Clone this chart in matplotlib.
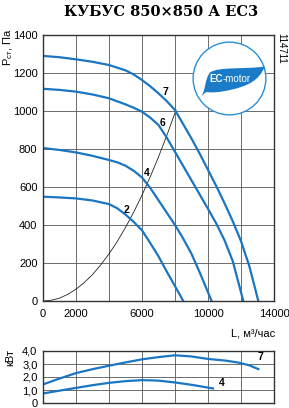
import matplotlib
matplotlib.use("Agg")
import matplotlib.pyplot as plt
from matplotlib.patches import Circle, PathPatch
from matplotlib.path import Path

# ─── Data ───────────────────────────────────────────────────────────────────

# pressure curves, L (m3/h) vs Pst (Pa)
flow_7 = [0, 1000, 2000, 3000, 4000, 5000, 5500, 6000, 6500, 7000, 7500, 8000,
          8500, 9000, 9500, 10000, 10500, 11000, 11500, 12000, 12500, 13050]
pres_7 = [1290, 1283, 1272, 1259, 1242, 1214, 1192, 1163, 1130, 1093, 1052, 1005,
          930, 855, 775, 690, 605, 515, 420, 315, 185, 0]

flow_6 = [0, 1000, 2000, 3000, 4000, 5000, 5500, 6000, 6500, 7000, 7500, 8000,
          8500, 9000, 9500, 10000, 10500, 11000, 11500, 12140]
pres_6 = [1117, 1111, 1102, 1087, 1067, 1035, 1017, 996, 965, 926, 860, 785,
          710, 635, 560, 485, 408, 320, 210, 0]

flow_4 = [0, 1000, 2000, 3000, 4000, 4500, 5000, 5500, 6000, 6500, 7000, 7500,
          8000, 8500, 9000, 9500, 10220]
pres_4 = [805, 795, 782, 764, 742, 730, 712, 685, 650, 595, 530, 465,
          400, 328, 248, 150, 0]

flow_2 = [0, 1000, 2000, 3000, 4000, 4500, 5000, 5500, 6000, 6500, 7000, 7500, 8000, 8500]
pres_2 = [549, 545, 540, 529, 510, 488, 455, 416, 372, 305, 235, 155, 78, 0]

# thin system line
net_flow = [0, 500, 1000, 1500, 2000, 2500, 3000, 3500, 4000, 4500, 5000, 5500,
            6000, 6500, 7000, 7500, 8060]
net_pres = [0, 4, 15, 35, 62, 97, 139, 190, 248, 313, 387, 468, 557, 654, 758, 870, 1005]

# power curves, L vs kW
pw_flow_7 = [0, 1000, 2000, 3000, 4000, 5000, 6000, 7000, 8000, 9000, 10000, 11000, 11800, 12500, 13050]
pw_7 = [1.43, 1.88, 2.3, 2.6, 2.87, 3.12, 3.36, 3.53, 3.67, 3.58, 3.39, 3.27, 3.12, 2.9, 2.61]

pw_flow_4 = [0, 1000, 2000, 3000, 4000, 5000, 6000, 7000, 8000, 9000, 10300]
pw_4 = [0.73, 0.95, 1.16, 1.37, 1.55, 1.68, 1.76, 1.72, 1.58, 1.4, 1.12]

curve_labels = ["7", "6", "4", "2"]
label_pos = [(7424, 1098), (7272, 936), (6284, 675), (5070, 479)]

x_ticks = [0, 2000, 6000, 10000, 14000]
y_ticks = [0, 200, 400, 600, 800, 1000, 1200, 1400]
pw_ticks = [0, 1, 2, 3, 4]
pw_tick_labels = ["0", "1,0", "2,0", "3,0", "4,0"]

BLUE = "#1a75c2"
GRID = "#555555"
W, H = 289, 408

plt.rcParams["font.family"] = ["Liberation Sans", "DejaVu Sans"]


def frac(px, py):
    """pixel position (from top-left) -> figure fraction"""
    return px / W, 1 - py / H


def style_axes(ax):
    for s in ax.spines.values():
        s.set_linewidth(1.0)
        s.set_color("#333333")
    ax.tick_params(length=0, labelsize=8)
    ax.set_xticks(range(0, 14001, 2000))
    ax.grid(True, color=GRID, linewidth=0.6)
    ax.set_axisbelow(True)


fig = plt.figure(figsize=(W / 100, H / 100), dpi=100)

# ─── Main pressure chart ────────────────────────────────────────────────────
ax = fig.add_axes([43 / W, 1 - 301 / H, 231 / W, 266 / H])
style_axes(ax)
ax.set_xlim(0, 14000)
ax.set_ylim(0, 1400)
ax.set_yticks(y_ticks)
ax.set_xticklabels([str(v) if v in x_ticks else "" for v in range(0, 14001, 2000)])
ax.tick_params(axis="x", pad=6)
ax.tick_params(axis="y", pad=4)

ax.plot(net_flow, net_pres, color="#222222", linewidth=0.6)
for fl, pr in [(flow_7, pres_7), (flow_6, pres_6), (flow_4, pres_4), (flow_2, pres_2)]:
    ax.plot(fl, pr, color=BLUE, linewidth=1.6, solid_joinstyle="round")
for lab, (lx, ly) in zip(curve_labels, label_pos):
    ax.text(lx, ly, lab, fontsize=7.5, fontweight="bold", ha="center", va="center")

# EC-motor logo
logo = fig.add_axes([192 / W, 1 - 116 / H, 75 / W, 75 / H])
logo.set_xlim(0, 1)
logo.set_ylim(0, 1)
logo.axis("off")
logo.add_patch(Circle((0.5, 0.5), 0.485, facecolor="white", edgecolor="#2a8fd6", linewidth=1.0))
leaf = Path(
    [(0.12, 0.26),
     (0.18, 0.32), (0.17, 0.50), (0.24, 0.58),
     (0.35, 0.66), (0.70, 0.62), (0.97, 0.66),
     (0.90, 0.48), (0.75, 0.40), (0.52, 0.35),
     (0.35, 0.31), (0.25, 0.31), (0.19, 0.32),
     (0.12, 0.26)],
    [Path.MOVETO,
     Path.CURVE4, Path.CURVE4, Path.CURVE4,
     Path.CURVE4, Path.CURVE4, Path.CURVE4,
     Path.CURVE4, Path.CURVE4, Path.CURVE4,
     Path.CURVE4, Path.CURVE4, Path.CURVE4,
     Path.LINETO],
)
logo.add_patch(PathPatch(leaf, facecolor="#1a7cc8", edgecolor="none"))
logo.text(0.41, 0.50, "EC", color="white", fontsize=7, fontweight="bold", ha="right", va="center")
logo.text(0.41, 0.50, "-motor", color="white", fontsize=7, ha="left", va="center")

# ─── Power chart ────────────────────────────────────────────────────────────
axp = fig.add_axes([43 / W, 1 - 403 / H, 231 / W, 52 / H])
style_axes(axp)
axp.set_xlim(0, 14000)
axp.set_ylim(0, 4)
axp.set_yticks(pw_ticks)
axp.set_yticklabels(pw_tick_labels)
axp.set_xticklabels([])
axp.tick_params(axis="y", pad=4)
axp.plot(pw_flow_7, pw_7, color=BLUE, linewidth=1.6, solid_joinstyle="round")
axp.plot(pw_flow_4, pw_4, color=BLUE, linewidth=1.6, solid_joinstyle="round")
axp.text(13150, 3.54, "7", fontsize=7.5, fontweight="bold", ha="center", va="center")
axp.text(10830, 1.52, "4", fontsize=7.5, fontweight="bold", ha="center", va="center")

# ─── Texts around the charts ────────────────────────────────────────────────
fig.text(*frac(161, 12), "КУБУС 850×850 А ЕС3", fontsize=10.5, fontweight="bold",
         family="DejaVu Serif", ha="center", va="center")
fig.text(*frac(8, 28), r"Р$_{\mathregular{ст}}$, Па", fontsize=8, rotation=90,
         ha="center", va="top")
fig.text(*frac(275, 334), "L, м³/час", fontsize=8, ha="right", va="center")
fig.text(*frac(10, 357), "кВт", fontsize=8, rotation=90, ha="center", va="center")
fig.text(*frac(281, 33), "114711", fontsize=7, rotation=270, ha="center", va="top")

fig.savefig("out.png", dpi=100)
